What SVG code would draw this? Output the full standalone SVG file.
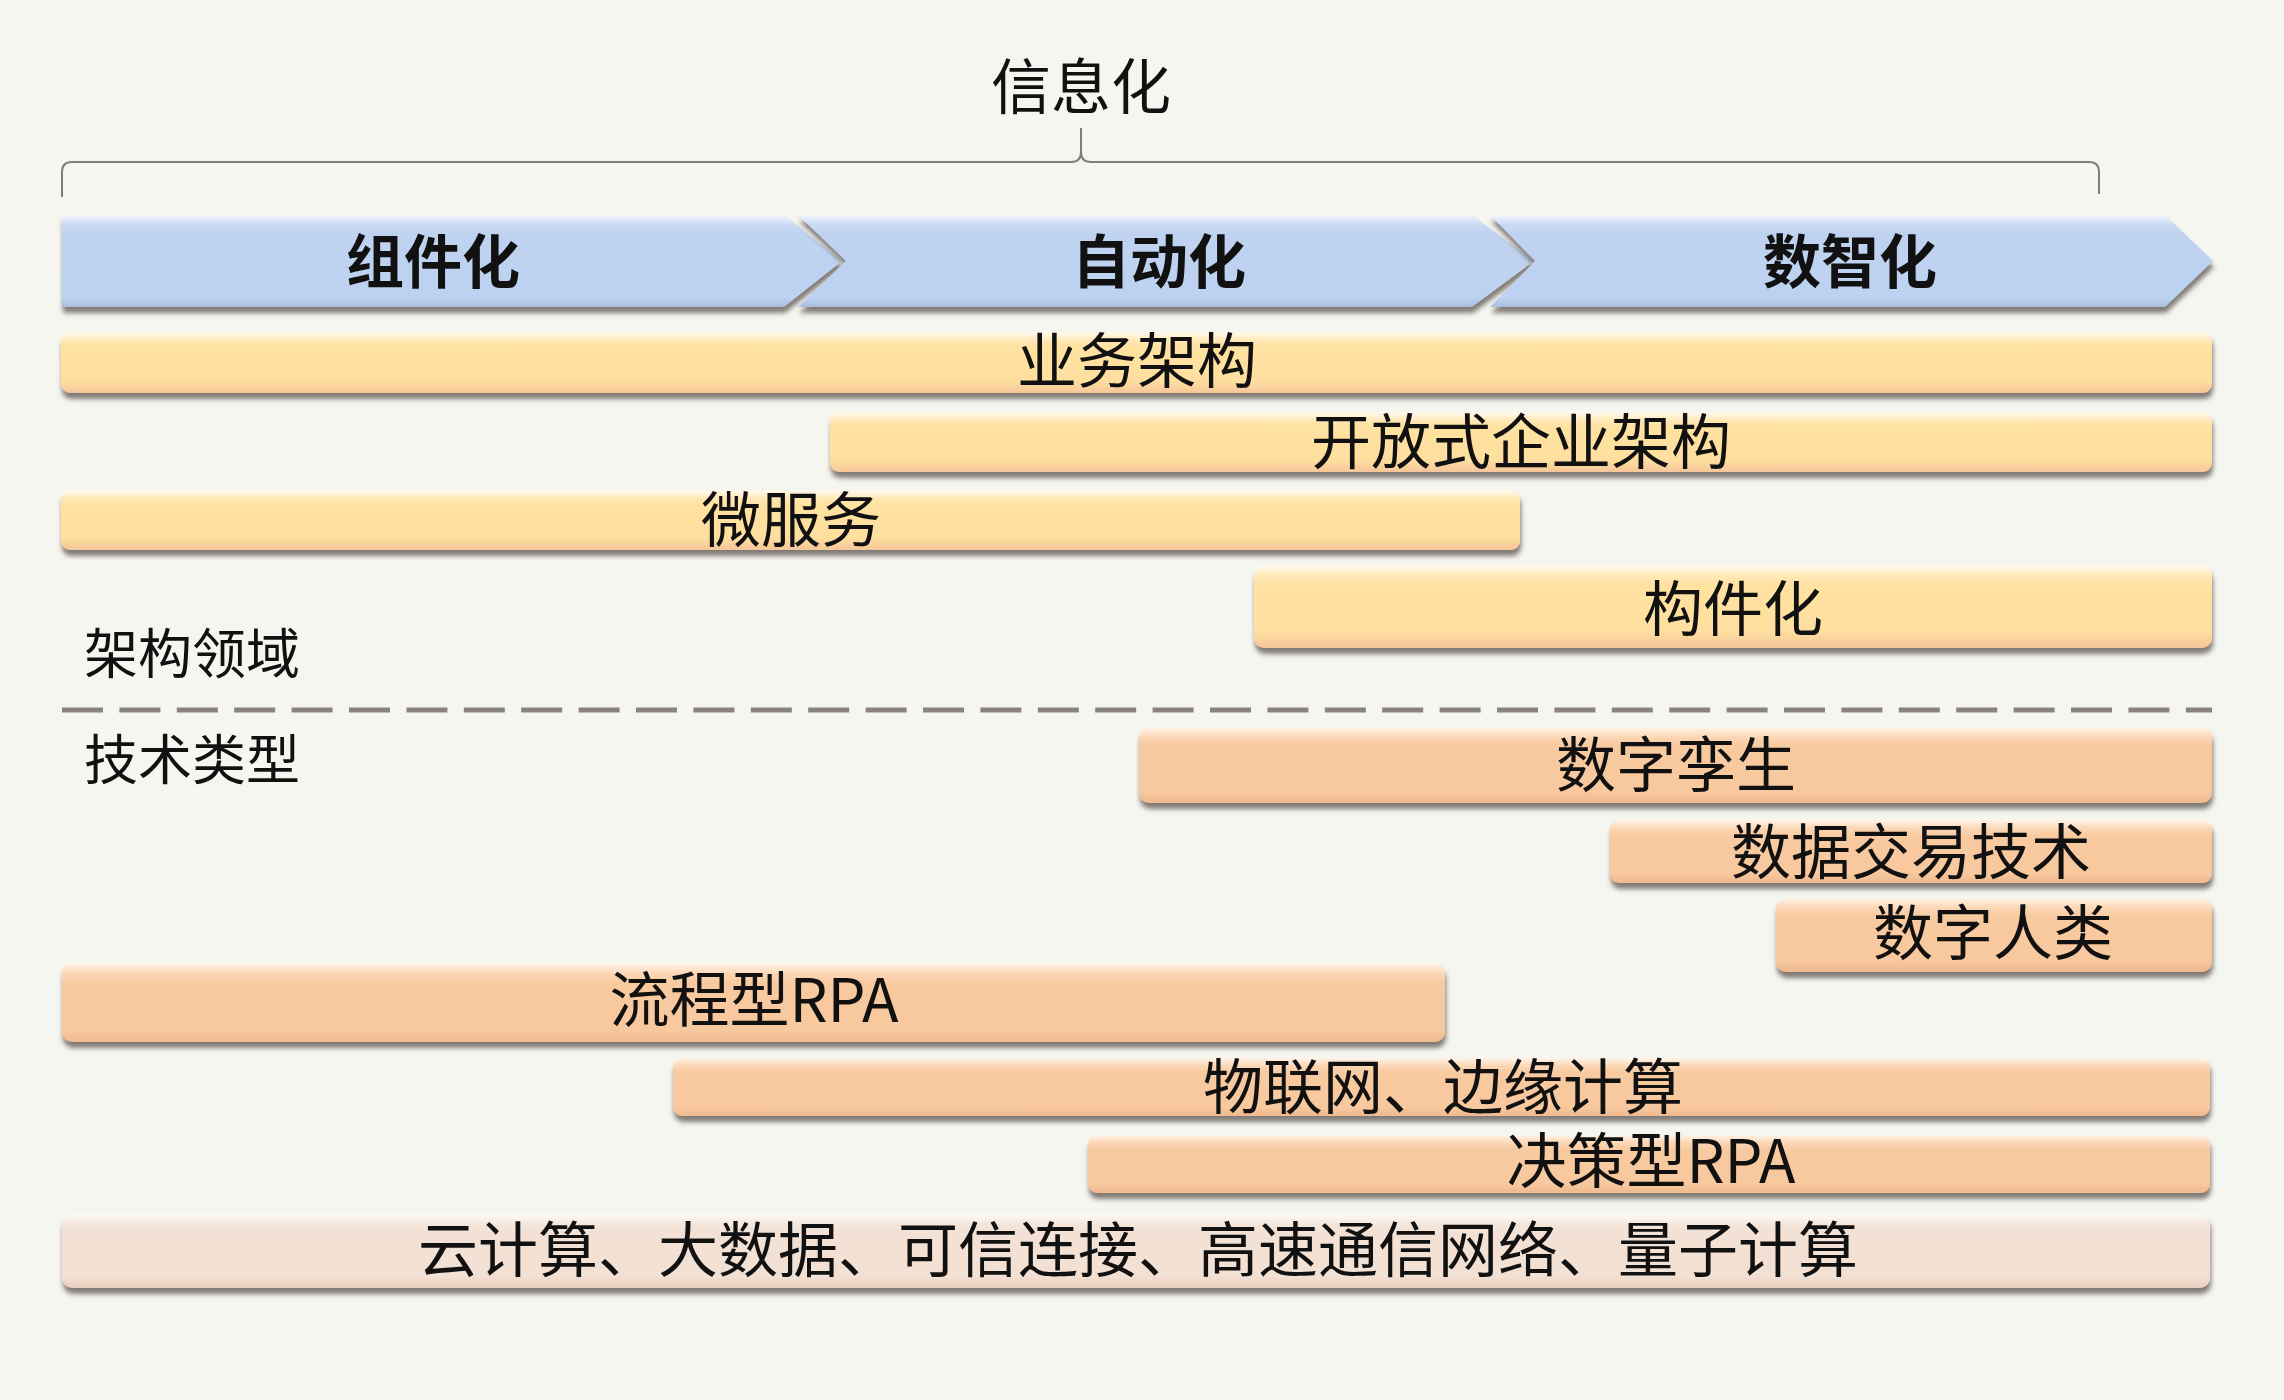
<svg xmlns="http://www.w3.org/2000/svg" width="2284" height="1400" viewBox="0 0 2284 1400">
<style>
  text { font-family: "Noto Sans CJK SC", "Noto Sans", sans-serif; font-size: 60px; fill: #111; text-anchor: middle; }
  .hd { font-weight: bold; font-size: 58px; }
  .lbl { font-size: 54px; text-anchor: start; }
  .y { fill: url(#gy); filter: url(#sh); }
  .o { fill: url(#go); filter: url(#sh); }
  .l { fill: url(#gl); filter: url(#sh); }
  .b { fill: url(#gb); filter: url(#sh); }
</style>
<defs>
  <filter id="sh" x="-5%" y="-30%" width="110%" height="170%">
    <feGaussianBlur in="SourceAlpha" stdDeviation="2.5"/>
    <feOffset dx="1" dy="6" result="o"/>
    <feFlood flood-color="#5a524c" flood-opacity="0.75"/>
    <feComposite in2="o" operator="in"/>
    <feMerge><feMergeNode/><feMergeNode in="SourceGraphic"/></feMerge>
  </filter>
  <linearGradient id="gy" x1="0" y1="0" x2="0" y2="1">
    <stop offset="0" stop-color="#fffaf0"/>
    <stop offset="0.14" stop-color="#ffe8b6"/>
    <stop offset="0.25" stop-color="#ffe1a0"/>
    <stop offset="0.8" stop-color="#fedf9f"/>
    <stop offset="1" stop-color="#f6c59a"/>
  </linearGradient>
  <linearGradient id="go" x1="0" y1="0" x2="0" y2="1">
    <stop offset="0" stop-color="#fff4e8"/>
    <stop offset="0.14" stop-color="#fbd6b4"/>
    <stop offset="0.25" stop-color="#f8caa0"/>
    <stop offset="0.85" stop-color="#f8c89e"/>
    <stop offset="1" stop-color="#eeb98e"/>
  </linearGradient>
  <linearGradient id="gl" x1="0" y1="0" x2="0" y2="1">
    <stop offset="0" stop-color="#fffbf7"/>
    <stop offset="0.14" stop-color="#f5e6db"/>
    <stop offset="0.25" stop-color="#f2e1d4"/>
    <stop offset="0.85" stop-color="#f2e0d3"/>
    <stop offset="1" stop-color="#e9ccb9"/>
  </linearGradient>
  <linearGradient id="gb" x1="0" y1="0" x2="0" y2="1">
    <stop offset="0" stop-color="#f2f6fd"/>
    <stop offset="0.1" stop-color="#cbdbf4"/>
    <stop offset="0.2" stop-color="#bfd3f1"/>
    <stop offset="0.9" stop-color="#bdd1f0"/>
    <stop offset="1" stop-color="#a9bde0"/>
  </linearGradient>
</defs>
<rect width="2284" height="1400" fill="#f6f6f1"/>

<g id="title">
  <text x="1081" y="109">信息化</text>
  <path d="M62,197 L62,172 Q62,162 72,162 L1071,162 Q1081,162 1081,152 L1081,128 M1081,152 Q1081,162 1091,162 L2089,162 Q2099,162 2099,172 L2099,194" fill="none" stroke="#7d7d7d" stroke-width="2"/>
</g>

<g id="phase-1">
  <path class="b" d="M62,215 L784,215 L842,261 L784,307 L62,307 Z"/>
  <text class="hd" x="433" y="283">组件化</text>
</g>
<g id="phase-2">
  <path class="b" d="M798,215 L1472,215 L1534,261 L1472,307 L798,307 L846,261 Z"/>
  <text class="hd" x="1159" y="283">自动化</text>
</g>
<g id="phase-3">
  <path class="b" d="M1490,215 L2165,215 L2213,261 L2165,307 L1490,307 L1535,261 Z"/>
  <text class="hd" x="1850" y="283">数智化</text>
</g>

<g id="bar-business">
  <rect class="y" x="61" y="332" width="2151" height="61" rx="9"/>
  <text x="1137" y="383">业务架构</text>
</g>
<g id="bar-open-enterprise">
  <rect class="y" x="830" y="412" width="1382" height="60" rx="9"/>
  <text x="1521" y="464">开放式企业架构</text>
</g>
<g id="bar-microservice">
  <rect class="y" x="61" y="490" width="1459" height="60" rx="9"/>
  <text x="791" y="542">微服务</text>
</g>
<g id="bar-component">
  <rect class="y" x="1254" y="565" width="958" height="83" rx="10"/>
  <text x="1733" y="631">构件化</text>
</g>

<g id="label-arch">
  <text class="lbl" x="84" y="674">架构领域</text>
</g>
<g id="divider">
  <line x1="62" y1="710" x2="2212" y2="710" stroke="#8a837d" stroke-width="5" stroke-dasharray="41 16.4"/>
</g>
<g id="label-tech">
  <text class="lbl" x="84" y="780">技术类型</text>
</g>

<g id="bar-twin">
  <rect class="o" x="1139" y="727" width="1073" height="76" rx="10"/>
  <text x="1676" y="787">数字孪生</text>
</g>
<g id="bar-data-trade">
  <rect class="o" x="1610" y="820" width="602" height="63" rx="9"/>
  <text x="1911" y="874">数据交易技术</text>
</g>
<g id="bar-digital-human">
  <rect class="o" x="1776" y="898" width="436" height="74" rx="10"/>
  <text x="1993" y="955">数字人类</text>
</g>
<g id="bar-process-rpa">
  <rect class="o" x="62" y="963" width="1383" height="79" rx="10"/>
  <text x="754" y="1022">流程型RPA</text>
</g>
<g id="bar-iot">
  <rect class="o" x="673" y="1058" width="1537" height="58" rx="9"/>
  <text x="1443" y="1109">物联网、边缘计算</text>
</g>
<g id="bar-decision-rpa">
  <rect class="o" x="1088" y="1135" width="1122" height="58" rx="9"/>
  <text x="1651" y="1183">决策型RPA</text>
</g>
<g id="bar-infra">
  <rect class="l" x="62" y="1214" width="2148" height="74" rx="10"/>
  <text x="1138" y="1272">云计算、大数据、可信连接、高速通信网络、量子计算</text>
</g>
<g id="connectors"></g>
</svg>
